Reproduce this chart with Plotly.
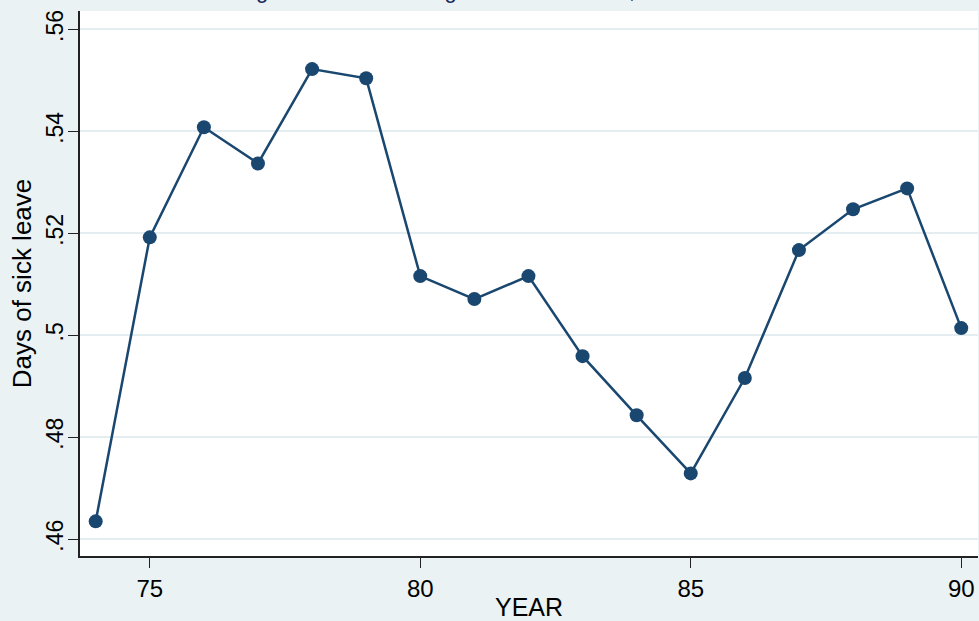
import plotly.graph_objects as go

years = [74, 75, 76, 77, 78, 79, 80, 81, 82, 83, 84, 85, 86, 87, 88, 89, 90]
sick_leave = [0.4635, 0.5192, 0.5408, 0.5337, 0.5522, 0.5504, 0.5116, 0.5071, 0.5116,
              0.4959, 0.4843, 0.4729, 0.4916, 0.5167, 0.5247, 0.5288, 0.5014]
y_ticks = [0.46, 0.48, 0.50, 0.52, 0.54, 0.56]
y_tick_labels = [".46", ".48", ".5", ".52", ".54", ".56"]
x_ticks = [75, 80, 85, 90]
x_tick_labels = ["75", "80", "85", "90"]
title_text = "Average sick leave among Swedish workers, 1974-1990"

W, H = 979, 621
ML, MR, MT, MB = 80, 1, 11, 65
FONT = "Liberation Sans, Arial, sans-serif"
NAVY = "#1a476f"
BG = "#eaf2f3"

fig = go.Figure()
fig.add_trace(go.Scatter(
    x=years, y=sick_leave, mode="lines+markers",
    line=dict(color=NAVY, width=2.5),
    marker=dict(color=NAVY, size=14),
    showlegend=False,
))

fig.update_layout(
    width=W, height=H,
    margin=dict(l=ML, r=MR, t=MT, b=MB, pad=0),
    paper_bgcolor=BG, plot_bgcolor="white",
    font=dict(family=FONT, color="black"),
    xaxis=dict(
        range=[73.71, 90.31], tickvals=x_ticks, ticktext=x_tick_labels,
        showgrid=False, zeroline=False,
        showline=True, linecolor="#222", linewidth=1.5,
        ticks="outside", ticklen=10, tickwidth=1.2, tickcolor="#222",
        tickfont=dict(size=24, family=FONT),
        title=dict(text="YEAR", font=dict(size=25, family=FONT), standoff=2),
    ),
    yaxis=dict(
        range=[0.4567, 0.5636], tickvals=y_ticks, ticktext=y_tick_labels,
        tickangle=-90, ticklabelstandoff=-4,
        showgrid=True, gridcolor="#e4eef0", gridwidth=2, zeroline=False,
        showline=True, linecolor="#222", linewidth=1.5,
        ticks="outside", ticklen=10, tickwidth=1.2, tickcolor="#222",
        tickfont=dict(size=23, family=FONT),
        title=dict(text="Days of sick leave", font=dict(size=26, family=FONT), standoff=3),
    ),
    annotations=[dict(
        text=title_text, xref="paper", yref="paper",
        x=(197 - ML) / (W - ML - MR), y=1, xanchor="left", yanchor="bottom",
        yshift=6, showarrow=False,
        font=dict(size=22, family=FONT, color="#1a2a60"),
    )],
)

fig.write_html("out.html", config={"displayModeBar": False},
               post_script="document.body.style.margin='0';document.body.style.overflow='hidden';")
